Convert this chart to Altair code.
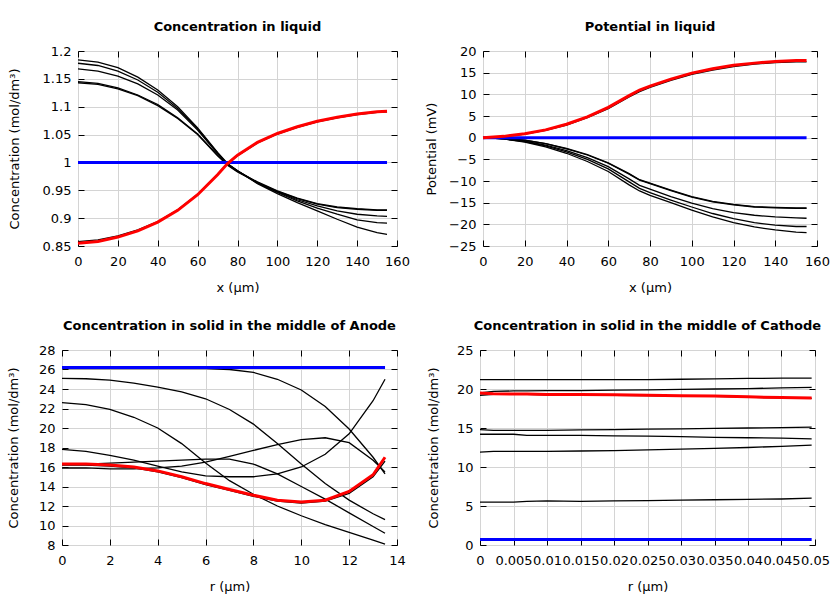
import altair as alt
import pandas as pd

FONT = "DejaVu Sans"
GRID = "#d4d4d4"

# ---------------- Panel 1: Concentration in liquid ----------------
p1_x = [0, 10, 20, 30, 40, 50, 60, 70, 75, 80, 90, 100, 110, 120, 130, 140, 150, 155]
p1_red = [0.855, 0.858, 0.866, 0.877, 0.893, 0.914, 0.942, 0.978, 0.998, 1.013, 1.036, 1.052, 1.064, 1.074, 1.081, 1.087, 1.091, 1.092]
p1_black = [
    [0.858, 0.861, 0.868, 0.879, 0.894, 0.915, 0.943, 0.979, 0.998, 1.012, 1.035, 1.051, 1.063, 1.073, 1.080, 1.086, 1.090, 1.091],
    [1.184, 1.180, 1.170, 1.153, 1.130, 1.100, 1.062, 1.018, 0.998, 0.985, 0.962, 0.944, 0.928, 0.913, 0.898, 0.884, 0.874, 0.871],
    [1.178, 1.174, 1.164, 1.148, 1.126, 1.097, 1.060, 1.017, 0.997, 0.985, 0.963, 0.946, 0.931, 0.918, 0.907, 0.897, 0.892, 0.891],
    [1.168, 1.164, 1.155, 1.141, 1.121, 1.094, 1.058, 1.016, 0.997, 0.985, 0.964, 0.947, 0.933, 0.922, 0.913, 0.907, 0.904, 0.903],
    [1.145, 1.142, 1.134, 1.121, 1.104, 1.080, 1.051, 1.013, 0.996, 0.984, 0.965, 0.949, 0.936, 0.926, 0.920, 0.917, 0.915, 0.915],
    [1.143, 1.140, 1.132, 1.120, 1.102, 1.079, 1.050, 1.012, 0.995, 0.983, 0.964, 0.948, 0.935, 0.925, 0.919, 0.916, 0.914, 0.914],
]
p1_blue_x = [0, 155]
p1_blue = [1.0, 1.0]

# ---------------- Panel 2: Potential in liquid ----------------
p2_x = [0, 10, 20, 30, 40, 50, 60, 70, 75, 80, 90, 100, 110, 120, 130, 140, 150, 155]
p2_red = [0, 0.3, 0.9, 1.8, 3.1, 4.8, 7.0, 9.7, 11.0, 11.9, 13.5, 14.9, 15.9, 16.7, 17.2, 17.6, 17.8, 17.8]
p2_black = [
    [0, 0.25, 0.8, 1.7, 2.9, 4.6, 6.7, 9.4, 10.6, 11.6, 13.2, 14.6, 15.6, 16.4, 17.0, 17.3, 17.5, 17.5],
    [0, -0.2, -0.6, -1.4, -2.5, -3.9, -5.8, -8.3, -9.7, -10.5, -12.1, -13.6, -14.7, -15.4, -15.9, -16.1, -16.2, -16.2],
    [0, -0.2, -0.6, -1.4, -2.6, -4.0, -5.9, -8.4, -9.8, -10.6, -12.2, -13.7, -14.8, -15.5, -16.0, -16.2, -16.3, -16.3],
    [0, -0.25, -0.8, -1.7, -3.0, -4.6, -6.7, -9.5, -11.0, -11.9, -13.6, -15.1, -16.4, -17.3, -17.9, -18.3, -18.5, -18.6],
    [0, -0.3, -0.9, -1.9, -3.3, -5.0, -7.2, -10.2, -11.7, -12.7, -14.4, -16.0, -17.5, -18.7, -19.6, -20.2, -20.5, -20.5],
    [0, -0.3, -1.0, -2.1, -3.6, -5.5, -7.8, -10.9, -12.3, -13.3, -15.0, -16.7, -18.3, -19.6, -20.6, -21.3, -21.8, -21.9],
]
p2_blue_x = [0, 155]
p2_blue = [0.0, 0.0]

# ---------------- Panel 3: Solid, middle of Anode ----------------
p3_x = [0, 1, 2, 3, 4, 5, 6, 7, 8, 9, 10, 11, 12, 13, 13.5]
p3_red = [16.3, 16.3, 16.2, 16.0, 15.6, 15.0, 14.3, 13.7, 13.1, 12.6, 12.4, 12.6, 13.5, 15.2, 17.0]
p3_black = [
    [16.2, 16.2, 16.1, 15.9, 15.5, 14.9, 14.2, 13.6, 13.0, 12.5, 12.3, 12.5, 13.3, 15.0, 16.6],
    [26.1, 26.1, 26.1, 26.1, 26.1, 26.1, 26.1, 26.0, 25.7, 25.0, 23.9, 22.2, 19.9, 17.0, 15.3],
    [25.1, 25.05, 24.9, 24.6, 24.2, 23.7, 23.0, 21.9, 20.4, 18.4, 16.3, 14.3, 12.6, 11.2, 10.6],
    [22.6, 22.4, 21.9, 21.1, 20.0, 18.4, 16.4, 14.6, 13.2, 12.0, 11.0, 10.1, 9.3, 8.5, 8.1],
    [17.8, 17.6, 17.2, 16.7, 16.1, 15.5, 15.1, 15.0, 15.0, 15.3, 16.0, 17.3, 19.4, 22.8, 25.0],
    [15.9, 15.9, 15.8, 15.8, 15.9, 16.1, 16.5, 17.1, 17.7, 18.3, 18.8, 19.0, 18.5, 16.7, 15.5],
    [16.3, 16.3, 16.4, 16.5, 16.6, 16.7, 16.8, 16.8, 16.3, 15.3, 14.0, 12.7, 11.3, 9.9, 9.2],
]
p3_blue_x = [0, 13.5]
p3_blue = [26.2, 26.2]

# ---------------- Panel 4: Solid, middle of Cathode ----------------
p4_x = [0, 0.002, 0.005, 0.007, 0.01, 0.015, 0.02, 0.025, 0.03, 0.035, 0.04, 0.045, 0.0495]
p4_red = [19.5, 19.4, 19.35, 19.35, 19.3, 19.3, 19.25, 19.2, 19.15, 19.1, 19.0, 18.9, 18.85]
p4_black = [
    [19.2, 19.3, 19.3, 19.3, 19.25, 19.25, 19.2, 19.15, 19.1, 19.05, 18.95, 18.85, 18.8],
    [21.2, 21.2, 21.2, 21.2, 21.2, 21.2, 21.2, 21.2, 21.25, 21.3, 21.35, 21.4, 21.4],
    [19.5, 19.7, 19.75, 19.75, 19.8, 19.8, 19.85, 19.9, 19.95, 20.0, 20.05, 20.15, 20.2],
    [14.8, 14.7, 14.7, 14.7, 14.7, 14.75, 14.8, 14.85, 14.9, 14.95, 15.0, 15.05, 15.1],
    [14.2, 14.2, 14.2, 14.05, 14.05, 14.05, 14.0, 13.95, 13.9, 13.8, 13.75, 13.7, 13.6],
    [11.9, 12.0, 12.0, 12.0, 12.0, 12.05, 12.1, 12.2, 12.3, 12.4, 12.5, 12.65, 12.8],
    [5.5, 5.5, 5.5, 5.6, 5.65, 5.6, 5.65, 5.7, 5.75, 5.8, 5.85, 5.9, 6.0],
]
p4_blue_x = [0, 0.0495]
p4_blue = [0.7, 0.7]

# ---------------- axis ticks / titles ----------------
liq_xticks = [0, 20, 40, 60, 80, 100, 120, 140, 160]
p1_yticks = [0.85, 0.9, 0.95, 1.0, 1.05, 1.1, 1.15, 1.2]
p2_yticks = [-25, -20, -15, -10, -5, 0, 5, 10, 15, 20]
p3_xticks = [0, 2, 4, 6, 8, 10, 12, 14]
p3_yticks = [8, 10, 12, 14, 16, 18, 20, 22, 24, 26, 28]
p4_xticks = [0, 0.005, 0.01, 0.015, 0.02, 0.025, 0.03, 0.035, 0.04, 0.045, 0.05]
p4_yticks = [0, 5, 10, 15, 20, 25]

CONC_TITLE = "Concentration (mol/dm³)"


def rows_for(xs, black, red, bx, blue):
    rows = []
    for i, ys in enumerate(black):
        for x, y in zip(xs, ys):
            rows.append({"x": x, "y": y, "s": f"b{i}", "k": "black"})
    for x, y in zip(bx, blue):
        rows.append({"x": x, "y": y, "s": "blue", "k": "blue"})
    for x, y in zip(xs, red):
        rows.append({"x": x, "y": y, "s": "red", "k": "red"})
    return pd.DataFrame(rows)


def panel(df, title, xtitle, ytitle, xdom, ydom, xticks, yticks, w, h, ytp):
    base = alt.Chart(df)
    common = dict(domain=False, ticks=True, tickSize=6, tickColor="black", tickWidth=1,
                  offset=-6, labelFont=FONT, labelFontSize=13, labelColor="black",
                  titleFont=FONT, titleFontSize=13, titleFontWeight="normal", titleColor="black",
                  labelFlush=False, labelOverlap=False, format="~f")
    xax = alt.Axis(orient="bottom", values=xticks, title=xtitle, grid=True, gridColor=GRID,
                   gridWidth=1, labelPadding=9, titlePadding=13, **common)
    yax = alt.Axis(orient="left", values=yticks, title=ytitle, grid=True, gridColor=GRID,
                   gridWidth=1, labelPadding=7, titlePadding=ytp, **common)
    mxax = alt.Axis(orient="top", values=xticks, title=None, grid=False, labels=False,
                    domain=False, tickSize=6, tickColor="black", offset=-6)
    myax = alt.Axis(orient="right", values=yticks, title=None, grid=False, labels=False,
                    domain=False, tickSize=6, tickColor="black", offset=-6)
    xs = alt.Scale(domain=xdom, nice=False, zero=False)
    ys = alt.Scale(domain=ydom, nice=False, zero=False)

    def enc(ch, xa, ya):
        return ch.encode(x=alt.X("x:Q", scale=xs, axis=xa),
                         y=alt.Y("y:Q", scale=ys, axis=ya),
                         detail="s:N")

    black = enc(base.transform_filter("datum.k == 'black'").mark_line(color="black", strokeWidth=1.3), xax, yax)
    blue = enc(base.transform_filter("datum.k == 'blue'").mark_line(color="#0000ff", strokeWidth=3), None, None)
    red = enc(base.transform_filter("datum.k == 'red'").mark_line(color="#ff0000", strokeWidth=3), None, None)
    mirror = enc(base.transform_filter("datum.k == 'blue'").mark_line(strokeOpacity=0), mxax, myax)
    return alt.layer(black, blue, red, mirror).resolve_axis(x="independent", y="independent").properties(
        width=w, height=h,
        title=alt.TitleParams(text=title, font=FONT, fontSize=13, fontWeight="bold", color="black",
                              offset=11, anchor="middle", frame="group"))


c1 = panel(rows_for(p1_x, p1_black, p1_red, p1_blue_x, p1_blue), "Concentration in liquid",
           "x (µm)", CONC_TITLE, [0, 160], [0.85, 1.2], liq_xticks, p1_yticks, 319, 195, 21)
c2 = panel(rows_for(p2_x, p2_black, p2_red, p2_blue_x, p2_blue), "Potential in liquid",
           "x (µm)", "Potential (mV)", [0, 160], [-25, 20], liq_xticks, p2_yticks, 334, 195, 10)
c3 = panel(rows_for(p3_x, p3_black, p3_red, p3_blue_x, p3_blue), "Concentration in solid in the middle of Anode",
           "r (µm)", CONC_TITLE, [0, 14], [8, 28], p3_xticks, p3_yticks, 335, 195, 17.5)
c4 = panel(rows_for(p4_x, p4_black, p4_red, p4_blue_x, p4_blue), "Concentration in solid in the middle of Cathode",
           "r (µm)", CONC_TITLE, [0, 0.05], [0, 25], p4_xticks, p4_yticks, 335, 195, 15.5)

# invisible 1px spacer: lets the first top panel start a little to the right of the one below it
spacer = alt.Chart(pd.DataFrame({"v": [0]})).mark_point(opacity=0).encode(
    x=alt.X("v:Q", axis=None), y=alt.Y("v:Q", axis=None)
).properties(width=1, height=195, view=alt.ViewBackground(strokeOpacity=0))

left_top = alt.hconcat(spacer, c1, spacing=-59)
row1 = alt.hconcat(left_top, c2, spacing=15)
row2 = alt.hconcat(c3, c4, spacing=21)
chart = alt.vconcat(row1, row2, spacing=24).properties(
    padding={"left": 7, "top": 20, "right": 0, "bottom": 0},
    background="white",
).configure_view(stroke="black", strokeWidth=1)

chart.save("out.html", embed_options={"renderer": "svg", "actions": False})
